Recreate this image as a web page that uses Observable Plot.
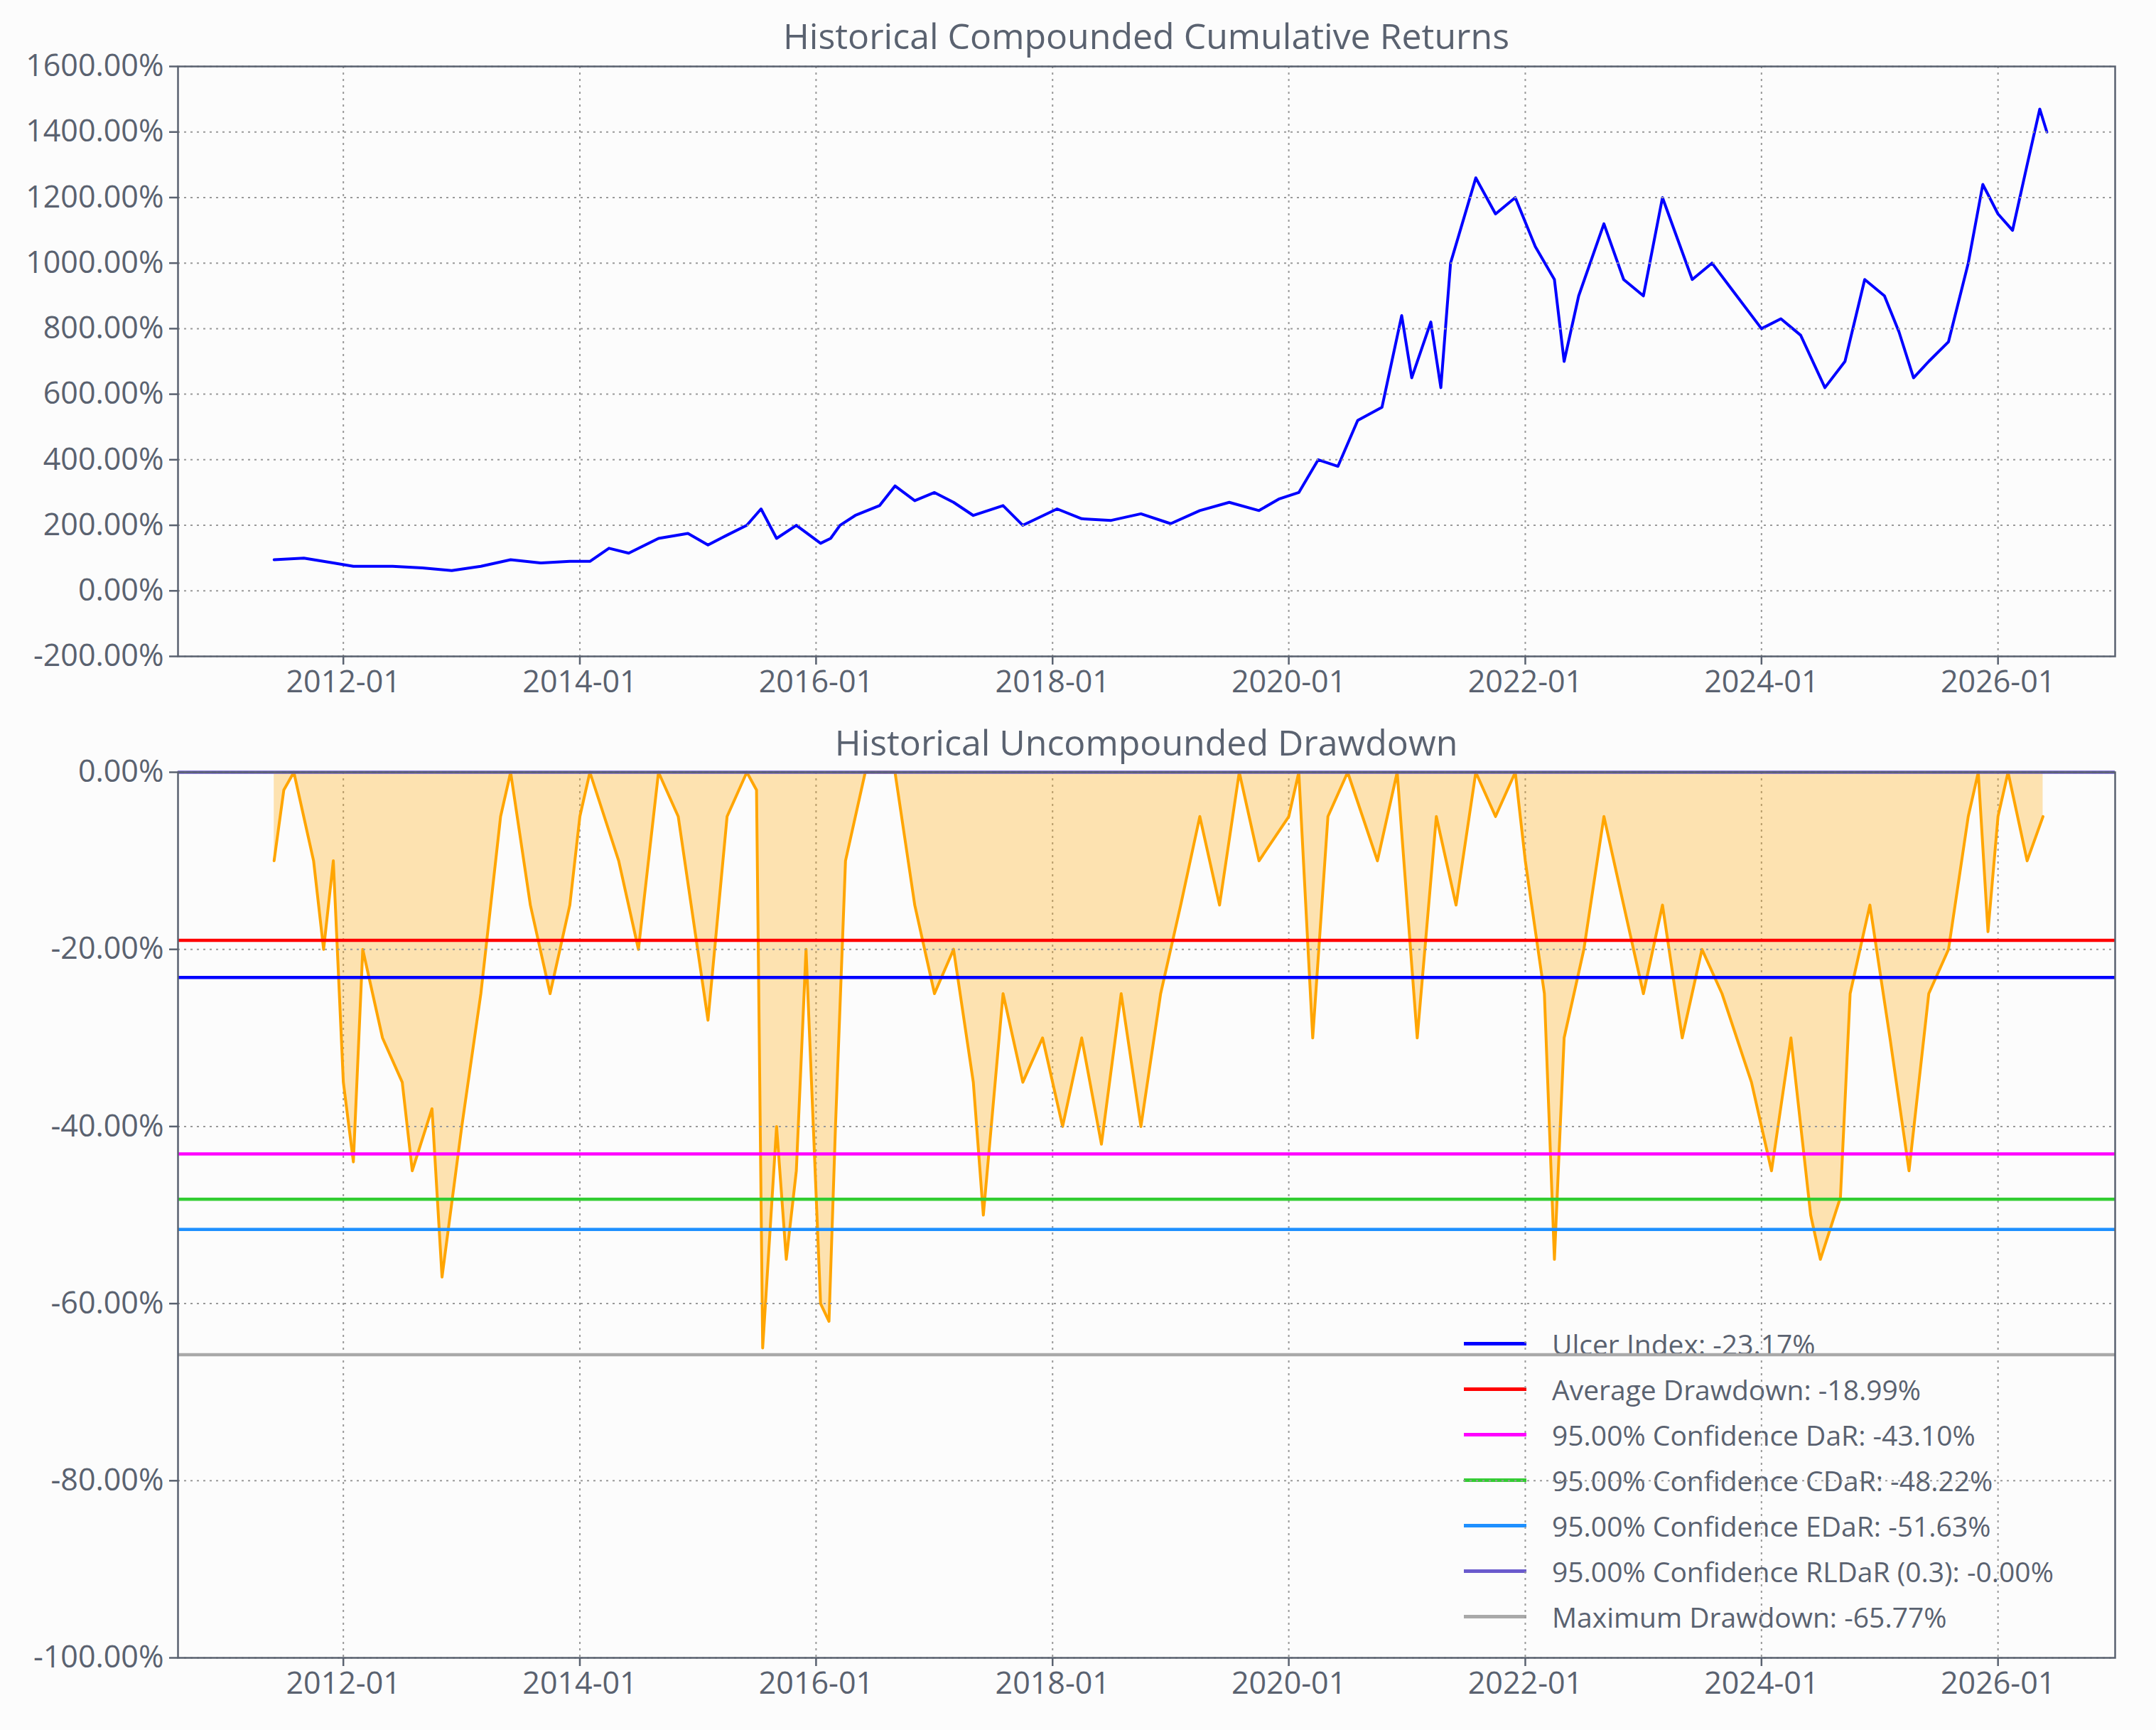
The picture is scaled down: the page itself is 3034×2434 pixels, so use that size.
<!DOCTYPE html>
<html><head><meta charset="utf-8">
<script src="https://cdn.jsdelivr.net/npm/d3@7"></script>
<script src="https://cdn.jsdelivr.net/npm/@observablehq/plot@0.6"></script>
<style>
body{margin:0;background:#fcfcfc;font-family:"Open Sans",sans-serif;color:#5a6270}
#c{position:relative;width:3034px;height:2434px;overflow:hidden}
.t{position:absolute;left:250px;width:2726px;text-align:center;font-size:50px}
svg{position:absolute;left:0}
#lg{position:absolute;left:2060px;top:1858px;font-size:39px}
#lg div{height:64px;display:flex;align-items:center}
#lg span.l{display:inline-block;width:88px;height:5px;margin-right:36px}
</style></head><body><div id="c">
<div class="t" style="top:16px">Historical Compounded Cumulative Returns</div>
<div class="t" style="top:1010px">Historical Uncompounded Drawdown</div>
<div id="lg"></div>
</div>
<script>
const cumDates = ["2011-06-01","2011-09-01","2011-12-01","2012-02-01","2012-06-01","2012-09-01","2012-12-01","2013-03-01","2013-06-01","2013-09-01","2013-12-01","2014-02-01","2014-04-01","2014-06-01","2014-09-01","2014-12-01","2015-02-01","2015-04-01","2015-06-01","2015-07-15","2015-09-01","2015-11-01","2016-01-15","2016-02-15","2016-03-15","2016-05-01","2016-07-15","2016-09-01","2016-11-01","2017-01-01","2017-03-01","2017-05-01","2017-08-01","2017-10-01","2018-01-15","2018-04-01","2018-07-01","2018-10-01","2019-01-01","2019-04-01","2019-07-01","2019-10-01","2019-12-01","2020-02-01","2020-04-01","2020-06-01","2020-08-01","2020-10-15","2020-12-15","2021-01-15","2021-03-15","2021-04-15","2021-05-15","2021-08-01","2021-10-01","2021-12-01","2022-02-01","2022-04-01","2022-05-01","2022-06-15","2022-09-01","2022-11-01","2023-01-01","2023-03-01","2023-06-01","2023-08-01","2023-10-01","2024-01-01","2024-03-01","2024-05-01","2024-07-15","2024-09-15","2024-11-15","2025-01-15","2025-03-01","2025-04-15","2025-06-01","2025-08-01","2025-10-01","2025-11-15","2026-01-01","2026-02-15","2026-04-01","2026-05-10","2026-06-01"];
const cumValues = [95,100,85,75,75,70,62,75,95,85,90,90,130,115,160,175,140,170,200,250,160,200,145,160,200,230,260,320,275,300,270,230,260,200,250,220,215,235,205,245,270,245,280,300,400,380,520,560,840,650,820,620,1000,1260,1150,1200,1050,950,700,900,1120,950,900,1200,950,1000,920,800,830,780,620,700,950,900,790,650,700,760,1000,1240,1150,1100,1300,1470,1400];

const ddDates = ["2011-06-01","2011-07-01","2011-08-01","2011-10-01","2011-11-01","2011-12-01","2012-01-01","2012-02-01","2012-03-01","2012-05-01","2012-07-01","2012-08-01","2012-10-01","2012-11-01","2013-01-01","2013-03-01","2013-05-01","2013-06-01","2013-08-01","2013-10-01","2013-12-01","2014-01-01","2014-02-01","2014-05-01","2014-07-01","2014-09-01","2014-11-01","2015-02-01","2015-04-01","2015-06-01","2015-07-01","2015-07-20","2015-09-01","2015-10-01","2015-11-01","2015-12-01","2016-01-15","2016-02-10","2016-03-01","2016-04-01","2016-06-01","2016-09-01","2016-11-01","2017-01-01","2017-03-01","2017-05-01","2017-06-01","2017-08-01","2017-10-01","2017-12-01","2018-02-01","2018-04-01","2018-06-01","2018-08-01","2018-10-01","2018-12-01","2019-02-01","2019-04-01","2019-06-01","2019-08-01","2019-10-01","2020-01-01","2020-02-01","2020-03-15","2020-05-01","2020-07-01","2020-10-01","2020-12-01","2021-02-01","2021-04-01","2021-06-01","2021-08-01","2021-10-01","2021-12-01","2022-01-01","2022-03-01","2022-04-01","2022-05-01","2022-07-01","2022-09-01","2022-11-01","2023-01-01","2023-03-01","2023-05-01","2023-07-01","2023-09-01","2023-12-01","2024-02-01","2024-04-01","2024-06-01","2024-07-01","2024-09-01","2024-10-01","2024-12-01","2025-02-01","2025-04-01","2025-06-01","2025-08-01","2025-10-01","2025-11-01","2025-12-01","2026-01-01","2026-02-01","2026-04-01","2026-05-20"];
const ddValues = [-10,-2,0,-10,-20,-10,-35,-44,-20,-30,-35,-45,-38,-57,-40,-25,-5,0,-15,-25,-15,-5,0,-10,-20,0,-5,-28,-5,0,-2,-65,-40,-55,-45,-20,-60,-62,-40,-10,0,0,-15,-25,-20,-35,-50,-25,-35,-30,-40,-30,-42,-25,-40,-25,-15,-5,-15,0,-10,-5,0,-30,-5,0,-10,0,-30,-5,-15,0,-5,0,-10,-25,-55,-30,-20,-5,-15,-25,-15,-30,-20,-25,-35,-45,-30,-50,-55,-48,-25,-15,-30,-45,-25,-20,-5,0,-18,-5,0,-10,-5];

const riskLabels = ["Ulcer Index","Average Drawdown","95.00% Confidence DaR","95.00% Confidence CDaR","95.00% Confidence EDaR","95.00% Confidence RLDaR (0.3)","Maximum Drawdown"];
const riskValues = [-23.17,-18.99,-43.10,-48.22,-51.63,-0.00,-65.77];
const riskText = ["-23.17%","-18.99%","-43.10%","-48.22%","-51.63%","-0.00%","-65.77%"];
const riskColors = ["#0000ff","#ff0000","#ff00ff","#32cd32","#1e90ff","#6a5acd","#a9a9a9"];

const xTicks = ["2012-01-01","2014-01-01","2016-01-01","2018-01-01","2020-01-01","2022-01-01","2024-01-01","2026-01-01"].map(d=>new Date(d));
const xDomain = [new Date("2010-08-08"), new Date("2026-12-29")];
const ink = "#5a6270";

const cum = cumDates.map((d,i)=>({date:new Date(d), v:cumValues[i]}));
const dd = ddDates.map((d,i)=>({date:new Date(d), v:ddValues[i]}));
const risks = riskLabels.map((l,i)=>({label:l, v:riskValues[i], t:riskText[i], c:riskColors[i]}));
const pct = d=>d.toFixed(2)+"%";
const style = {background:"transparent", fontSize:"43px", fontFamily:"Open Sans", color:ink, overflow:"visible"};
const grid = [
  Plot.gridX(xTicks,{stroke:"#999",strokeOpacity:1,strokeDasharray:"3,6",strokeWidth:2}),
];
function axes(yt){return [
  Plot.gridY(yt,{stroke:"#999",strokeOpacity:1,strokeDasharray:"3,6",strokeWidth:2}),
  Plot.axisX(xTicks,{tickFormat:d3.utcFormat("%Y-%m"),tickSize:12,tickPadding:8,stroke:ink,strokeWidth:2.5,fill:ink,label:null}),
  Plot.axisY(yt,{tickFormat:pct,tickSize:12,tickPadding:8,stroke:ink,strokeWidth:2.5,fill:ink,label:null}),
  Plot.frame({stroke:ink,strokeWidth:2.5})
];}

const yt1 = d3.range(-200,1601,200);
const p1 = Plot.plot({width:3034,height:943,marginTop:33,marginBottom:80,marginLeft:250,marginRight:58,style,
  x:{type:"utc",domain:xDomain,label:null}, y:{domain:[-200,1600],label:null},
  marks:[...grid,
    Plot.line(cum,{x:"date",y:"v",stroke:"#0000ff",strokeWidth:4}),
    ...axes(yt1)]});
p1.style.top="60px";
document.getElementById("c").appendChild(p1);

const yt2 = d3.range(-100,1,20);
const p2 = Plot.plot({width:3034,height:1362,marginTop:36,marginBottom:80,marginLeft:250,marginRight:58,style,
  x:{type:"utc",domain:xDomain,label:null}, y:{domain:[-100,0],label:null},
  marks:[...grid,
    Plot.areaY(dd,{x:"date",y1:0,y2:"v",fill:"#ffa500",fillOpacity:0.3}),
    Plot.line(dd,{x:"date",y:"v",stroke:"#ffa500",strokeWidth:4}),
    Plot.ruleY(risks,{y:"v",stroke:"c",strokeWidth:4.5}),
    ...axes(yt2)]});
p2.style.top="1050px";
document.getElementById("c").appendChild(p2);

const lg = document.getElementById("lg");
risks.forEach(r=>{
  const row=document.createElement("div");
  row.innerHTML=`<span class="l" style="background:${r.c}"></span>${r.label}: ${r.t}`;
  lg.appendChild(row);
});
</script></body></html>
